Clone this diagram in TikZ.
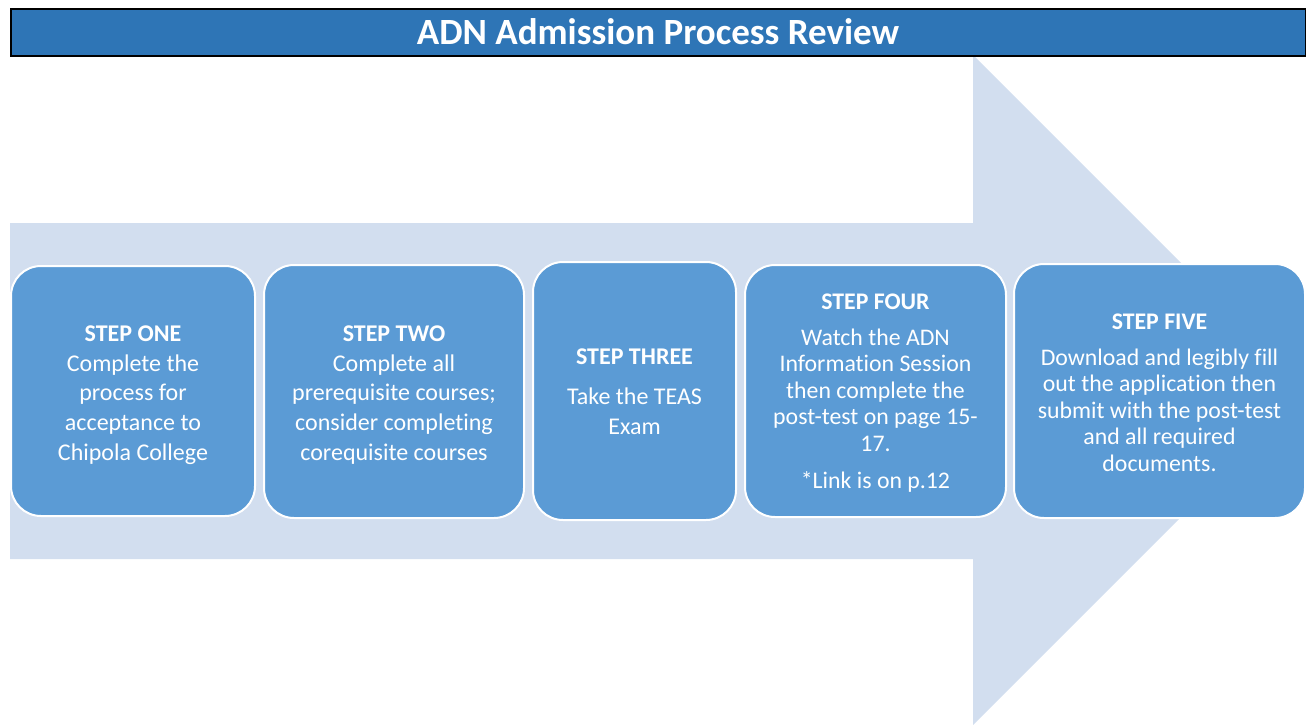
\documentclass[tikz,border=0pt]{standalone}
\usepackage{fontspec}
\setmainfont{Carlito}[Ligatures={NoCommon}]
\definecolor{titleblue}{RGB}{46,117,182}
\definecolor{boxblue}{RGB}{91,155,213}
\definecolor{arrowblue}{RGB}{210,222,239}
\tikzset{
  stepbox/.style={draw=white, line width=2pt, fill=boxblue, rounded corners=30pt,
    inner sep=0pt},
  steptext/.style={text=white, align=center, inner sep=0pt},
  bodyA/.style={font=\fontsize{24}{29.7}\selectfont},
  bodyB/.style={font=\fontsize{23.8}{26.5}\selectfont},
}
\begin{document}
\begin{tikzpicture}[x=1pt,y=-1pt]
\useasboundingbox (0,0) rectangle (1306,725);
% big arrow
\fill[arrowblue] (10,223) -- (973,223) -- (973,55) -- (1308,390) -- (973,725)
  -- (973,559) -- (10,559) -- cycle;
% title bar
\node[draw=black, line width=2pt, fill=titleblue, minimum width=1295pt, minimum height=47pt,
  inner sep=0pt, anchor=north west] (title) at (10,8) {};
\node[text=white, font=\fontsize{37}{44}\selectfont\bfseries] (titletext) at (658,32)
  {ADN Admission Process Review};
% step boxes
\node[stepbox, minimum width=244pt, minimum height=250pt] (s1) at (133,391) {};
\node[stepbox, minimum width=260pt, minimum height=253pt] (s2) at (394,391.5) {};
\node[stepbox, minimum width=203pt, minimum height=258pt] (s3) at (634.5,391) {};
\node[stepbox, minimum width=261pt, minimum height=252pt] (s4) at (875.5,391) {};
\node[stepbox, minimum width=291pt, minimum height=254pt] (s5) at (1159.5,391) {};
% step texts
\node[steptext, bodyA, yshift=-4pt] (t1) at (s1.center)
  {\textbf{STEP ONE}\\Complete the\\process for\\acceptance to\\Chipola College};
\node[steptext, bodyA, yshift=-3.5pt] (t2) at (s2.center)
  {\textbf{STEP TWO}\\Complete all\\prerequisite courses;\\consider completing\\corequisite courses};
\node[steptext, bodyA, yshift=-0.5pt] (t3) at (s3.center)
  {\textbf{STEP THREE}\\[11pt]Take the TEAS\\Exam};
\node[steptext, bodyB, yshift=-2pt] (t4) at (s4.center)
  {\textbf{STEP FOUR}\\[9.5pt]Watch the ADN\\Information Session\\then complete the\\post-test on page 15-\\17.\\[10.5pt]*Link is on p.12};
\node[steptext, bodyB, yshift=-1.5pt] (t5) at (s5.center)
  {\textbf{STEP FIVE}\\[9.5pt]Download and legibly fill\\out the application then\\submit with the post-test\\and all required\\documents.};
\end{tikzpicture}
\end{document}
